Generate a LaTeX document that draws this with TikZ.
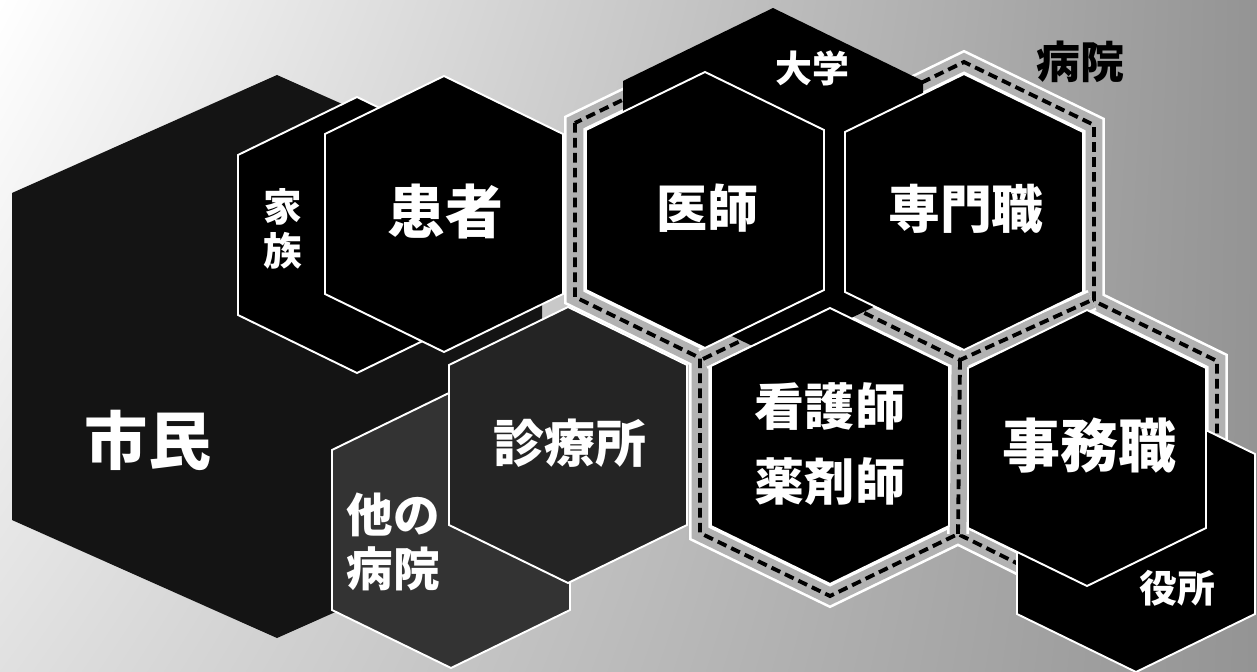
\documentclass[tikz,border=0pt]{standalone}
\usepackage{fontspec}
\newfontfamily\jp{Noto Sans CJK JP}
\usetikzlibrary{calc,shadings}

\newcommand{\jpfont}[1]{\jp\bfseries\fontsize{#1}{#1}\selectfont}
% hexagon: [style] {centre} {half width} {slant} {half side}
\newcommand{\hexa}[5][]{\filldraw[#1] ($(#2)+(0,-#4-#5)$) -- ++(#3,#4) -- ++(0,2*#5)
  -- ++(-#3,#4) -- ++(-#3,-#4) -- ++(0,-2*#5) -- cycle;}

\begin{document}
\begin{tikzpicture}[x=0.02cm, y=-0.02cm,
    hexa/.style={fill=black, draw=white, line width=1.1pt},
    road/.style={draw=black, line width=2.2pt, dash pattern=on 5.5pt off 3pt,
      preaction={draw=white, line width=12.5pt, solid},
      preaction={draw=black!30, line width=9.5pt, solid}}]

  \useasboundingbox (0,0) rectangle (1257,672);
  \clip (0,0) rectangle (1257,672);
  \shade[upper left=white, upper right=black!42, lower left=black!12, lower right=black!42]
    (0,0) rectangle (1257,672);

  \coordinate (shimin)  at (277,356.5);
  \coordinate (kazoku)  at (357,235);
  \coordinate (kanja)   at (444,214);
  \coordinate (tabyoin) at (451,530);
  \coordinate (shinryo) at (568,445);
  \coordinate (daigaku) at (773,182);
  \coordinate (ishi)    at (705,210);
  \coordinate (senmon)  at (964,212);
  \coordinate (kango)   at (830,446);
  \coordinate (jimu)    at (1087,448);
  \coordinate (yakusho) at (1136,534);

  % outside the hospital
  \hexa[hexa, fill=black!92, draw=none]{shimin}{265}{118}{163.5}
  \hexa[hexa]{kazoku}{119}{58}{80}
  \hexa[hexa]{kanja}{119}{58}{80}
  \hexa[hexa, fill=black!80]{tabyoin}{119}{58}{80}
  \hexa[hexa, fill=black!86]{shinryo}{119}{58}{80}

  % hospital border
  \draw[road] (575,123) -- (575,297) -- (700,358) -- (700,533) -- (830,596) -- (958,534)
    -- (1087,598) -- (1217,535) -- (1217,361) -- (1094,301) -- (1094,125) -- (964,62)
    -- (834.5,125) -- (705,60) -- cycle;
  \draw[road] (703,359) -- (832,297) -- (960,360) -- (1092,300) (960,360) -- (958,534);

  % hospital
  \hexa[hexa, draw=none]{daigaku}{150}{73}{101}
  \hexa[hexa]{ishi}{119}{58}{80}
  \hexa[hexa]{senmon}{119}{58}{80}
  \hexa[hexa]{kango}{119}{58}{80}
  \hexa[hexa]{yakusho}{119}{58}{80}
  \hexa[hexa]{jimu}{119}{58}{80}

  \begin{scope}[every node/.style={text=white, inner sep=0pt, align=center}]
    \node[font=\jpfont{36}]   (shiminL)  at (148,440)  {市民};
    \node[font=\jpfont{22}]   (kazokuL)  at (283,229)  {家\\[3pt]族};
    \node[font=\jpfont{33}]   (kanjaL)   at (445,211)  {患者};
    \node[font=\jpfont{26.5}] (tabyoinL) at (393,542)  {他の\\[4.5pt]病院};
    \node[font=\jpfont{29}]   (shinryoL) at (570,443)  {診療所};
    \node[font=\jpfont{21}]   (daigakuL) at (812,68)   {大学};
    \node[font=\jpfont{29}]   (ishiL)    at (707,208)  {医師};
    \node[font=\jpfont{29.5}] (senmonL)  at (966,209)  {専門職};
    \node[font=\jpfont{28.5}] (kangoL)   at (830,444)  {看護師\\[14pt]薬剤師};
    \node[font=\jpfont{33}]   (jimuL)    at (1089,446) {事務職};
    \node[font=\jpfont{21.5}] (yakushoL) at (1177,588) {役所};
    \node[font=\jpfont{25}, text=black] (byoinL) at (1080,62) {病院};
  \end{scope}

\end{tikzpicture}
\end{document}
